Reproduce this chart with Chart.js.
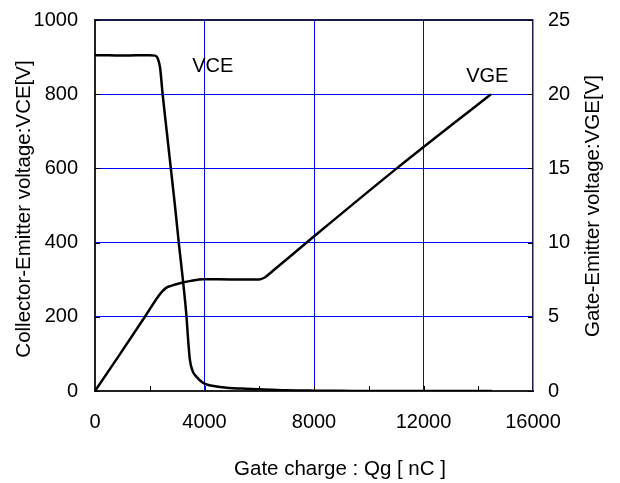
<!DOCTYPE html>
<html>
<head>
<meta charset="utf-8">
<script src="https://cdn.jsdelivr.net/npm/chart.js@4.4.0/dist/chart.umd.min.js"></script>
<style>
  body { margin: 0; background: #fff; }
  canvas { display: block; }
</style>
</head>
<body>
<canvas id="chart" width="620" height="483"></canvas>
<script>
// gate charge [nC] vs collector-emitter voltage [V]
const vceCharge = [0, 500, 1000, 1500, 2000, 2200, 2300, 2380, 2470, 2620, 2770, 2920, 3075, 3210, 3343, 3400, 3464, 3560, 3708, 3950, 4437, 4800, 5500, 6000, 7000, 8000, 9000, 10000, 14500]
const vceValues = [905, 905, 904, 905, 905, 904, 895, 870, 800, 700, 600, 500, 390, 300, 200, 140, 85, 55, 38, 22, 12, 9, 6, 4.5, 2, 1, 0.5, 0, 0]

// gate charge [nC] vs gate-emitter voltage [V]
const vgeCharge = [0, 900, 1823, 2300, 2450, 2600, 2800, 3100, 3500, 3950, 5000, 6000, 6200, 6500, 7840, 11023, 14465]
const vgeValues = [0, 2.45, 5.0, 6.35, 6.7, 6.95, 7.1, 7.26, 7.42, 7.53, 7.52, 7.52, 7.65, 8.1, 10.17, 15, 20]

const xTicks = [0, 4000, 8000, 12000, 16000]
const vceTicks = [0, 200, 400, 600, 800, 1000]
const vgeTicks = [0, 5, 10, 15, 20, 25]

const FONT = "'Liberation Sans', Arial, sans-serif"
const FONT_SIZE = 20
const TITLE_SIZE = 20.5
const GRID_BLUE = '#0000ff'
const FRAME = '#1a1a50'
const NONE = 'rgba(0,0,0,0)'

function toPoints(xs, ys) {
    return xs.map((x, i) => ({ x: x, y: ys[i] }))
}

function rotatedText(ctx, text, x, y) {
    ctx.save()
    ctx.translate(x, y)
    ctx.rotate(-Math.PI / 2)
    ctx.fillText(text, 0, 0)
    ctx.restore()
}

function fixVertical(width) {
    return s => {
        s.width = width
        s.paddingTop = 0
        s.paddingBottom = 0
    }
}

// inner tick marks, axis titles and curve labels
const decorations = {
    id: 'decorations',
    afterDatasetsDraw(chart) {
        const ctx = chart.ctx
        const x = chart.scales.x
        const y = chart.scales.y
        const y2 = chart.scales.y2
        const area = chart.chartArea

        ctx.save()
        ctx.strokeStyle = '#000'
        ctx.lineWidth = 1
        ctx.beginPath()
        for (let q = 2000; q < 16000; q += 2000) {
            const px = Math.round(x.getPixelForValue(q)) + 0.5
            ctx.moveTo(px, area.bottom)
            ctx.lineTo(px, area.bottom - 5)
        }
        vceTicks.forEach(v => {
            const py = Math.round(y.getPixelForValue(v)) + 0.5
            ctx.moveTo(area.left, py)
            ctx.lineTo(area.left + 5, py)
        })
        vgeTicks.forEach(v => {
            const py = Math.round(y2.getPixelForValue(v)) + 0.5
            ctx.moveTo(area.right, py)
            ctx.lineTo(area.right - 5, py)
        })
        ctx.stroke()

        ctx.fillStyle = '#000'
        ctx.font = FONT_SIZE + 'px ' + FONT
        ctx.textAlign = 'center'
        ctx.textBaseline = 'middle'
        ctx.fillText('VCE', x.getPixelForValue(4300), y.getPixelForValue(875))
        ctx.fillText('VGE', x.getPixelForValue(14330), y2.getPixelForValue(21.2))

        ctx.font = TITLE_SIZE + 'px ' + FONT
        ctx.fillText('Gate charge : Qg [ nC ]', 340, 469)
        rotatedText(ctx, 'Collector-Emitter voltage:VCE[V]', 24, 209)
        rotatedText(ctx, 'Gate-Emitter voltage:VGE[V]', 593, 206)
        ctx.restore()
    }
}

const chart = new Chart(document.getElementById('chart'), {
    type: 'line',
    data: {
        datasets: [
            {
                label: 'VCE',
                data: toPoints(vceCharge, vceValues),
                yAxisID: 'y',
                borderColor: '#000',
                borderWidth: 2.5,
                pointRadius: 0,
                cubicInterpolationMode: 'monotone'
            },
            {
                label: 'VGE',
                data: toPoints(vgeCharge, vgeValues),
                yAxisID: 'y2',
                borderColor: '#000',
                borderWidth: 2.5,
                pointRadius: 0,
                cubicInterpolationMode: 'monotone'
            }
        ]
    },
    options: {
        responsive: false,
        animation: false,
        layout: { padding: { top: 20 } },
        plugins: {
            legend: { display: false },
            tooltip: { enabled: false }
        },
        scales: {
            x: {
                type: 'linear',
                min: 0,
                max: 16000,
                afterBuildTicks: s => { s.ticks = xTicks.map(v => ({ value: v })) },
                afterFit: s => {
                    s.height = 92
                    s.paddingLeft = 0
                    s.paddingRight = 0
                },
                ticks: {
                    color: '#000',
                    font: { family: FONT, size: FONT_SIZE },
                    padding: 19,
                    maxRotation: 0,
                    autoSkip: false,
                    callback: v => String(v)
                },
                grid: {
                    drawTicks: false,
                    color: [NONE, GRID_BLUE, GRID_BLUE, GRID_BLUE, NONE]
                },
                border: { color: '#222', width: 2 }
            },
            y: {
                position: 'left',
                min: 0,
                max: 1000,
                afterBuildTicks: s => { s.ticks = vceTicks.map(v => ({ value: v })) },
                afterFit: fixVertical(95),
                ticks: {
                    color: '#000',
                    font: { family: FONT, size: FONT_SIZE },
                    padding: 17,
                    autoSkip: false,
                    callback: v => String(v)
                },
                grid: {
                    drawTicks: false,
                    color: [NONE, GRID_BLUE, GRID_BLUE, GRID_BLUE, GRID_BLUE, FRAME],
                    lineWidth: [1, 1, 1, 1, 1, 2]
                },
                border: { color: '#222', width: 2 }
            },
            y2: {
                position: 'right',
                min: 0,
                max: 25,
                afterBuildTicks: s => { s.ticks = vgeTicks.map(v => ({ value: v })) },
                afterFit: fixVertical(87),
                ticks: {
                    color: '#000',
                    font: { family: FONT, size: FONT_SIZE },
                    padding: 15,
                    autoSkip: false,
                    callback: v => String(v)
                },
                grid: { display: false, drawTicks: false },
                border: { color: FRAME, width: 1.5 }
            }
        }
    },
    plugins: [decorations]
})
</script>
</body>
</html>
